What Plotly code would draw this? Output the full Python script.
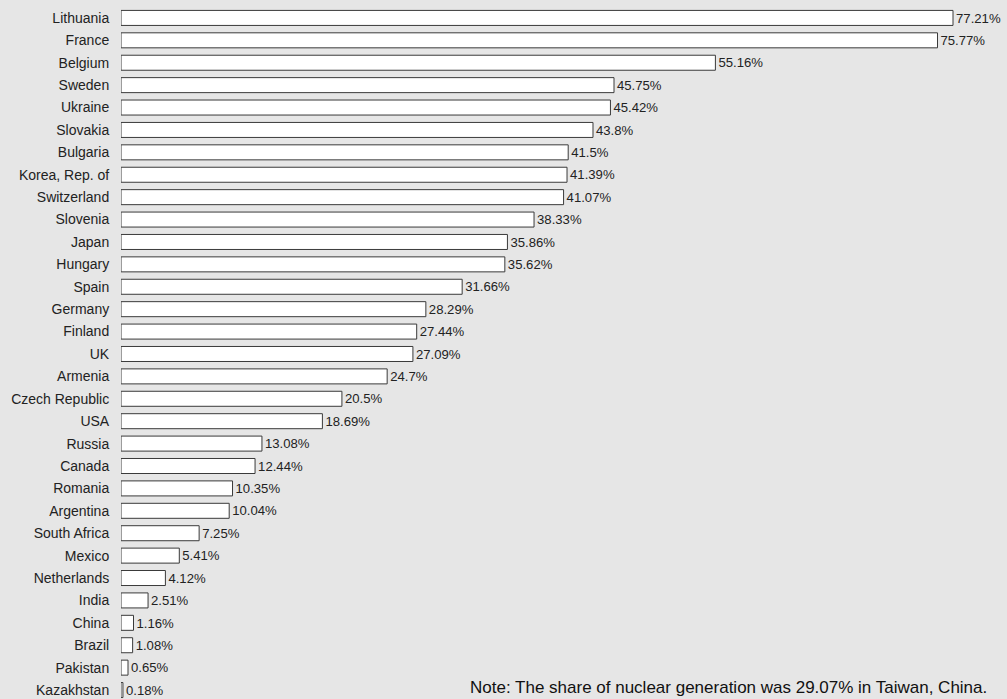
import plotly.graph_objects as go

countries = ["Lithuania", "France", "Belgium", "Sweden", "Ukraine", "Slovakia", "Bulgaria",
             "Korea, Rep. of", "Switzerland", "Slovenia", "Japan", "Hungary", "Spain", "Germany",
             "Finland", "UK", "Armenia", "Czech Republic", "USA", "Russia", "Canada", "Romania",
             "Argentina", "South Africa", "Mexico", "Netherlands", "India", "China", "Brazil",
             "Pakistan", "Kazakhstan"]
shares = [77.21, 75.77, 55.16, 45.75, 45.42, 43.8, 41.5, 41.39, 41.07, 38.33, 35.86, 35.62,
          31.66, 28.29, 27.44, 27.09, 24.7, 20.5, 18.69, 13.08, 12.44, 10.35, 10.04, 7.25,
          5.41, 4.12, 2.51, 1.16, 1.08, 0.65, 0.18]
labels = [f"{v:g}%" for v in shares]
note = "Note: The share of nuclear generation was 29.07% in Taiwan, China."

BG = "#e6e6e6"
fig = go.Figure(go.Bar(
    x=shares, y=countries, orientation="h",
    marker=dict(color="white", line=dict(color="#3a3a3a", width=1)),
    text=labels, textposition="outside", cliponaxis=False,
    textfont=dict(family="Liberation Sans, Arial", size=14, color="#222"),
    hoverinfo="skip",
))
fig.update_layout(
    width=1007, height=699,
    margin=dict(l=121, r=0, t=0, b=0),
    paper_bgcolor=BG, plot_bgcolor=BG,
    bargap=0.33, showlegend=False,
    font=dict(family="Liberation Sans, Arial", size=14, color="#222"),
    xaxis=dict(range=[0, 82.22], visible=False, fixedrange=True),
    yaxis=dict(type="category", range=[30.40, -0.80], showgrid=False, zeroline=False,
               showline=False, ticks="outside", ticklen=8, tickcolor="rgba(0,0,0,0)",
               tickfont=dict(size=14, color="#222"), fixedrange=True),
    annotations=[dict(text=note, x=986 / 1007, y=1 - 687 / 699, xref="paper", yref="paper",
                      showarrow=False, xanchor="right", yanchor="middle",
                      font=dict(family="Liberation Sans, Arial", size=17, color="#111"))],
)
fig.write_html("out.html", config={"displayModeBar": False},
               post_script="document.body.style.margin='0';document.body.style.background='#e6e6e6';")
